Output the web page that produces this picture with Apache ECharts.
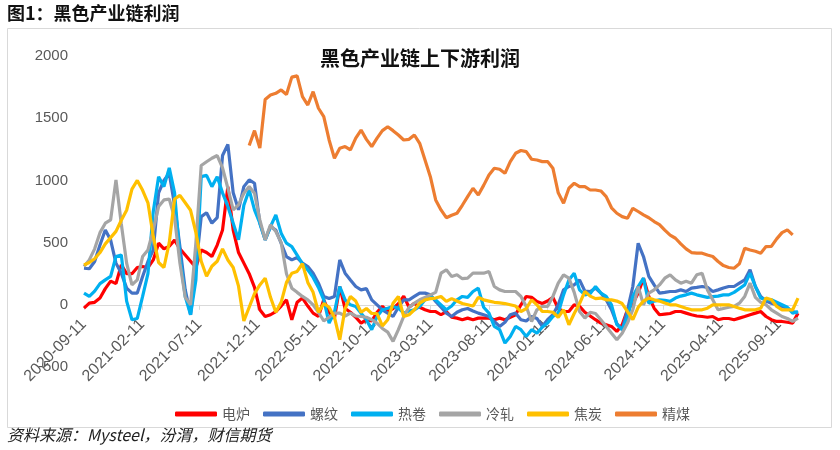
<!DOCTYPE html>
<html><head><meta charset="utf-8">
<script src="https://cdn.jsdelivr.net/npm/echarts@6/dist/echarts.min.js"></script>
<style>html,body{margin:0;padding:0;background:#fff}#c{width:840px;height:450px}</style>
</head><body><div id="c"></div>
<script>
// ---- data (biweekly samples starting 2020-09-11) ----
const startDate = '2020-09-11';
const stepDays = 14;
const tickLabels = ['2020-09-11','2021-02-11','2021-07-11','2021-12-11','2022-05-11','2022-10-11','2023-03-11','2023-08-11','2024-01-11','2024-06-11','2024-11-11','2025-04-11','2025-09-11'];
const seriesNames = ['电炉','螺纹','热卷','冷轧','焦炭','精煤'];
const seriesColors = ['#FF0000','#4472C4','#00B0F0','#A5A5A5','#FFC000','#ED7D31'];

const dianlu = [-27,13,20,54,130,190,170,321,250,250,
300,308,300,361,495,450,470,520,450,400,
350,300,441,420,388,480,602,950,600,420,
335,250,140,-40,-94,-80,-54,-10,40,-120,
20,54,-10,-67,-94,40,-60,-107,147,-30,
-60,-100,-147,-120,-130,-60,-13,-54,-30,10,
70,-20,13,-20,-40,-54,-54,-80,-54,-100,
-107,-120,-107,-120,-107,-107,-107,-120,-107,-120,
-100,-80,0,67,60,27,10,30,60,-30,
-54,-54,0,-13,-60,-90,-120,-147,-160,-174,
-214,-160,-40,10,94,214,67,-27,-80,-75,
-70,-54,-54,-67,-80,-90,-94,-100,-94,-120,
-110,-110,-120,-107,-94,-80,-67,-54,-94,-120,
-134,-134,-140,-147,-67];

const luowen = [294,290,348,480,602,520,335,254,134,94,
94,228,348,441,900,1000,1057,800,468,120,
-80,300,709,740,656,700,1200,1290,900,763,
950,1004,977,656,522,629,600,495,388,361,
380,335,308,254,174,67,50,67,361,254,
200,147,120,130,40,0,-40,-67,-94,-20,
40,40,67,94,94,80,27,-20,-67,-94,
-60,-40,-30,-50,-67,-80,-94,-134,-174,-140,
-80,-67,-120,-130,-94,-110,-174,-120,-80,0,
120,147,160,200,110,107,134,94,40,-40,
-150,-200,-40,147,495,388,228,160,94,100,
107,107,120,107,134,140,147,140,107,120,
135,147,147,174,200,281,147,67,30,13,
0,-13,-27,-54,-67];

const rejuan = [94,67,110,170,200,228,388,401,30,-120,
-110,67,250,750,1030,950,1100,900,388,67,
-80,200,1030,1040,950,1030,900,790,656,522,
800,924,763,656,522,629,723,576,495,468,
400,330,281,220,140,40,-147,-60,147,40,
0,-13,-67,-120,-200,-94,-40,-27,-13,-27,
-67,-50,-40,-13,40,67,40,0,-40,-10,
40,67,60,107,134,-20,-67,-174,-200,-308,
-254,-174,-200,-254,-200,-228,-180,-147,-94,-67,
80,200,254,120,80,90,147,94,67,0,
-160,-200,-100,67,147,214,13,30,40,35,
27,54,70,80,94,80,70,60,65,70,
80,80,100,130,160,254,147,54,40,40,
20,0,-20,-67,-54];

const lengza = [308,361,450,580,656,683,1004,650,335,160,
200,388,441,602,790,843,850,700,335,60,
0,500,1120,1150,1178,1200,1100,937,763,803,
897,950,897,683,522,643,589,500,250,134,
100,67,40,0,-60,-130,-100,-67,-67,-90,
-67,-90,-94,-100,-120,-147,-190,-220,-294,-200,
-94,-20,13,40,60,80,100,254,281,228,
241,210,214,254,254,254,268,147,120,107,
107,107,67,-13,-134,-40,-13,-13,67,174,
241,214,100,-54,-107,-60,-70,-120,-174,-228,
-281,-228,-147,-40,147,0,94,120,160,214,
241,200,174,190,174,241,254,120,40,-40,
-30,-20,-13,13,67,174,60,20,0,-40,
-67,-94,-110,-134,-107];

const jiaotan = [320,340,370,420,490,540,590,680,760,930,
1000,920,820,550,340,300,500,850,880,820,
760,580,350,230,310,350,450,360,300,150,
-130,-20,90,160,214,60,-60,20,180,254,
268,330,180,100,-60,10,-20,-100,-280,-30,
67,30,-60,-30,-70,-70,-170,-120,13,67,
-94,-80,-40,13,40,50,54,67,27,50,
30,10,0,-10,60,40,30,20,15,10,
0,-10,-54,-30,40,0,-54,-54,-60,-100,
-40,-160,-70,10,107,70,50,54,40,40,
30,10,-54,-120,-20,30,54,40,30,15,
0,0,-13,-27,-40,-40,-40,-27,0,0,
0,0,-13,-27,-40,-40,-40,-27,54,40,
-13,-40,-40,-40,54];

const jingmei = [null,null,null,null,null,null,null,null,null,null,
null,null,null,null,null,null,null,null,null,null,
null,null,null,null,null,null,null,null,null,null,
null,1280,1400,1260,1650,1686,1700,1727,1690,1830,
1840,1673,1606,1713,1580,1513,1325,1178,1258,1272,
1245,1340,1405,1330,1272,1340,1400,1432,1400,1365,
1325,1330,1365,1298,1164,1030,843,763,700,720,
736,800,870,937,883,960,1044,1098,1090,1057,
1151,1218,1240,1231,1170,1164,1151,1151,1098,900,
816,937,977,950,950,923,923,915,870,780,
736,709,696,776,750,723,700,669,645,600,
560,535,490,450,420,415,415,400,388,348,
315,300,294,330,455,440,430,415,468,470,
530,580,602,562,null];

const seriesValues = [dianlu, luowen, rejuan, lengza, jiaotan, jingmei];
const yMin = -500, yMax = 2000, yStep = 500;

// ---- build ----
const DAY = 86400000;
const t0 = Date.parse(startDate + 'T00:00:00Z');
const dayOf = s => Math.round((Date.parse(s + 'T00:00:00Z') - t0) / DAY);
const n = dianlu.length;
const xDays = Array.from({length: n}, (_, i) => i * stepDays);
const tickDays = tickLabels.map(dayOf);
const labelOf = {};
tickLabels.forEach((s, i) => { labelOf[tickDays[i]] = s; });

const gridTop = 56, gridBottom = 83;
const plotH = 450 - gridTop - gridBottom;
// shift x axis (line, ticks, labels) up to the zero level, as in the original
const zeroOffset = -plotH * (0 - yMin) / (yMax - yMin);

const chart = echarts.init(document.getElementById('c'), null, {renderer: 'canvas'});
const cjk = '"Noto Sans CJK SC", sans-serif';
chart.setOption({
  animation: false,
  backgroundColor: '#ffffff',
  title: {
    text: '黑色产业链上下游利润',
    left: 'center', top: 43,
    textStyle: {fontFamily: cjk, fontSize: 20, fontWeight: 'bold', color: '#111'}
  },
  graphic: [
    {type: 'rect', shape: {x: 7.5, y: 28.5, width: 824, height: 399},
     style: {fill: 'none', stroke: '#D9D9D9', lineWidth: 1}, silent: true},
    {type: 'text', left: 7, top: 4,
     style: {text: '图1：黑色产业链利润', font: 'bold 18px "Noto Sans CJK SC", sans-serif', fill: '#111'}},
    {type: 'text', left: 7, top: 427,
     style: {text: '资料来源：Mysteel，汾渭，财信期货', font: 'italic 16px "Noto Sans CJK SC", sans-serif', fill: '#222'}}
  ],
  legend: {
    data: seriesNames,
    left: 170, top: 402,
    icon: 'roundRect', itemWidth: 42, itemHeight: 5, itemGap: 13,
    textStyle: {fontFamily: cjk, fontSize: 14, color: '#595959'}
  },
  grid: {left: 84, right: 42, top: gridTop, bottom: gridBottom, containLabel: false},
  xAxis: {
    type: 'value', min: 0, max: xDays[n - 1],
    offset: zeroOffset,
    axisLine: {onZero: false, lineStyle: {color: '#D9D9D9', width: 1}},
    axisTick: {show: true, customValues: tickDays, length: 5, lineStyle: {color: '#D9D9D9'}},
    axisLabel: {
      customValues: tickDays, rotate: 45, margin: 17,
      fontFamily: '"Liberation Sans", Arial, sans-serif', fontSize: 16, color: '#595959',
      formatter: v => labelOf[Math.round(v)] || ''
    },
    splitLine: {show: false}
  },
  yAxis: {
    type: 'value', min: yMin, max: yMax, interval: yStep,
    axisLine: {show: false}, axisTick: {show: false},
    axisLabel: {fontFamily: '"Liberation Sans", Arial, sans-serif', fontSize: 15, color: '#595959', margin: 16,
      formatter: v => String(v)},
    splitLine: {show: false}
  },
  series: seriesNames.map((name, k) => ({
    name, type: 'line', showSymbol: false, symbol: 'none',
    data: xDays.map((x, i) => [x, seriesValues[k][i]]),
    lineStyle: {width: 3.2, color: seriesColors[k]},
    itemStyle: {color: seriesColors[k]},
    connectNulls: false
  }))
});
</script></body></html>
